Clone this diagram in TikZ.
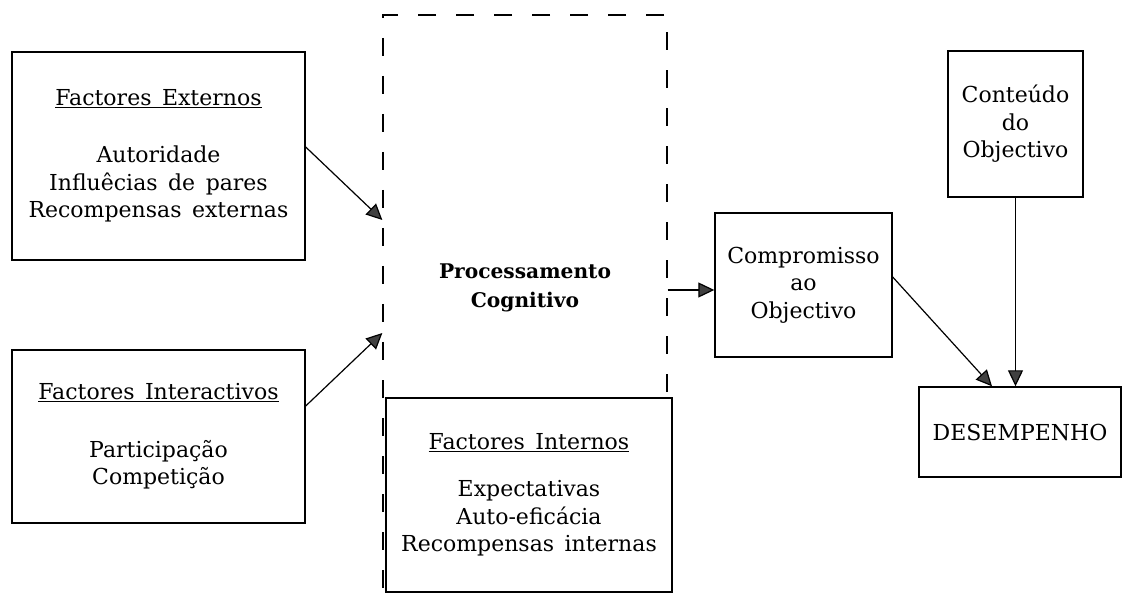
\documentclass[tikz,border=0pt]{standalone}
\usepackage{fontspec}
\setmainfont{DejaVu Serif}[WordSpace=1.5]
\usetikzlibrary{arrows.meta}
\tikzset{
  box/.style={draw, line width=1.4pt, rectangle, inner sep=0pt, align=center,
    font=\fontsize{22}{27.5}\selectfont, fill=white},
  frame/.style={draw, line width=1.3pt, dash pattern=on 18pt off 20pt, rectangle, inner sep=0pt},
  arr/.style={line width=1.2pt, -{Triangle[length=16pt,width=15pt,fill=black!75]}},
  lbl/.style={inner sep=0pt, align=center, font=\fontsize{20.2}{29}\selectfont\bfseries}
}
\begin{document}
\begin{tikzpicture}[x=1pt,y=-1pt]
\useasboundingbox (0,0) rectangle (1124,601);
\clip (0,0) rectangle (1124,601);
\fill[white] (0,0) rectangle (1124,601);
% dashed frame of cognitive processing
\node[frame, minimum width=284pt, minimum height=625pt] (proc) at (525,327.5) {};
\node[lbl] (proctext) at (525,288) {Processamento\\Cognitivo};
% boxes
\node[box, minimum width=293pt, minimum height=208pt] (fe) at (158.5,156)
  {\underline{Factores Externos}\\[30pt]Autoridade\\Influêcias de pares\\Recompensas externas};
\node[box, minimum width=293pt, minimum height=173pt] (fi) at (158.5,436.5)
  {\underline{Factores Interactivos}\\[30pt]Participação\\Competição};
\node[box, minimum width=286pt, minimum height=194pt] (int) at (529,495)
  {\underline{Factores Internos}\\[20pt]Expectativas\\Auto-eficácia\\Recompensas internas};
\node[box, minimum width=177pt, minimum height=144pt] (comp) at (803.5,285)
  {Compromisso\\ao\\Objectivo};
\node[box, minimum width=135pt, minimum height=146pt] (cont) at (1015.5,124)
  {Conteúdo\\do\\Objectivo};
\node[box, minimum width=202pt, minimum height=90pt] (des) at (1020,432)
  {\raisebox{-3pt}{DESEMPENHO}};
% connectors
\draw[arr] ([yshift=9pt]fe.east) -- ([yshift=107.5pt]proc.west);
\draw[arr] ([yshift=30.5pt]fi.east) -- ([yshift=-5.5pt]proc.west);
\draw[arr] ([yshift=37.5pt]proc.east) -- ([yshift=-5pt]comp.west);
\draw[arr] ([yshift=8pt]comp.east) -- ([xshift=-28pt]des.north);
\draw[arr] (cont.south) -- (cont.south |- des.north);
\end{tikzpicture}
\end{document}
